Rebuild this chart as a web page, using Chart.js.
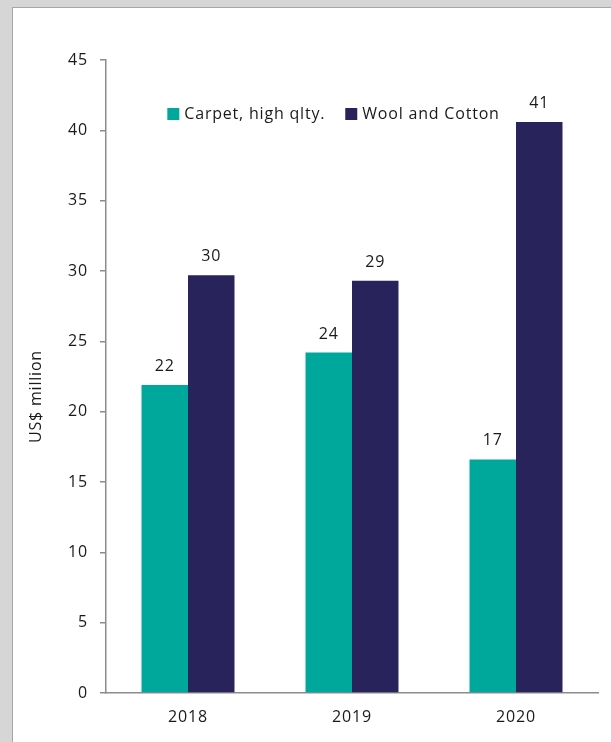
<!DOCTYPE html>
<html>
<head>
<meta charset="utf-8">
<script src="https://cdn.jsdelivr.net/npm/chart.js@4/dist/chart.umd.min.js"></script>
<style>
  html, body { margin: 0; padding: 0; background: #d6d6d6; overflow: hidden; }
  .panel { position: absolute; left: 12px; top: 7px; width: 640px; height: 780px; background: #fff; border: 1px solid #a6a6a6; }
  .wrap { position: absolute; left: 0; top: 0; width: 611px; height: 742px; }
</style>
</head>
<body>
<div class="panel"></div>
<div class="wrap"><canvas id="chart" width="611" height="742"></canvas></div>
<script>
// data
const years = ['2018', '2019', '2020']
const carpetValues = [21.9, 24.2, 16.6]
const woolValues = [29.7, 29.3, 40.6]
const seriesNames = ['Carpet, high qlty.', 'Wool and Cotton']
const yTicks = [0, 5, 10, 15, 20, 25, 30, 35, 40, 45]

const FONT = '"Open Sans", Lato, sans-serif'
const FONT_SIZE = 16
const TEXT = '#1a1a1a'
const AXIS = '#8c8c8c'

// the source chart's text is a little spaced out
const spacing = {
  id: 'spacing',
  beforeDraw(chart) { chart.ctx.letterSpacing = '0.8px' }
}

// value labels above each bar
const barLabels = {
  id: 'barLabels',
  afterDatasetsDraw(chart) {
    const { ctx } = chart
    ctx.save()
    ctx.font = `${FONT_SIZE}px ${FONT}`
    ctx.fillStyle = TEXT
    ctx.textAlign = 'center'
    ctx.textBaseline = 'alphabetic'
    chart.data.datasets.forEach((ds, i) => {
      chart.getDatasetMeta(i).data.forEach((bar, j) => {
        ctx.fillText(String(Math.round(ds.data[j])), bar.x, bar.y - 14)
      })
    })
    ctx.restore()
  }
}

// legend drawn inside the plot area, in one row
const innerLegend = {
  id: 'innerLegend',
  afterDraw(chart) {
    const { ctx } = chart
    const items = Chart.defaults.plugins.legend.labels.generateLabels(chart)
    ctx.save()
    ctx.font = `${FONT_SIZE}px ${FONT}`
    ctx.textBaseline = 'middle'
    ctx.textAlign = 'left'
    const box = 12, gapText = 5, gapItem = 20
    const widths = items.map(it => box + gapText + ctx.measureText(it.text).width)
    const total = widths.reduce((a, b) => a + b, 0) + gapItem * (items.length - 1)
    let x = 333.5 - total / 2
    const cy = 114
    items.forEach((it, i) => {
      ctx.fillStyle = it.fillStyle
      ctx.fillRect(x, cy - box / 2, box, box)
      ctx.fillStyle = TEXT
      ctx.fillText(it.text, x + box + gapText, cy)
      x += widths[i] + gapItem
    })
    ctx.restore()
  }
}

new Chart(document.getElementById('chart'), {
  type: 'bar',
  data: {
    labels: years,
    datasets: [
      { label: seriesNames[0], data: carpetValues, backgroundColor: '#00a89c' },
      { label: seriesNames[1], data: woolValues, backgroundColor: '#29235c' }
    ]
  },
  plugins: [spacing, barLabels, innerLegend],
  options: {
    responsive: false,
    animation: false,
    layout: { padding: { left: 0, top: 60, right: 13, bottom: 0 } },
    datasets: { bar: { categoryPercentage: 0.567, barPercentage: 1, borderWidth: 0 } },
    plugins: {
      tooltip: { enabled: false },
      legend: { display: false }
    },
    scales: {
      x: {
        grid: { drawOnChartArea: false, drawTicks: false },
        border: { color: AXIS, width: 1.5 },
        ticks: { color: TEXT, font: { family: FONT, size: FONT_SIZE }, padding: 15 },
        afterFit(s) { s.height = 49 }
      },
      y: {
        min: 0, max: 45,
        afterBuildTicks(s) { s.ticks = yTicks.map(v => ({ value: v })) },
        grid: { drawOnChartArea: false, drawTicks: true, tickLength: 6, color: AXIS, lineWidth: 1.5 },
        border: { color: AXIS, width: 1.5 },
        ticks: { color: TEXT, font: { family: FONT, size: FONT_SIZE }, padding: 12 },
        title: { display: true, text: 'US$ million', color: TEXT, font: { family: FONT, size: FONT_SIZE }, padding: { top: 27, bottom: 0 } },
        afterFit(s) {
          s.width = 106
          // the title sits a bit below the axis middle in the source
          if (!s._titleShifted) {
            const orig = s.drawTitle
            s.drawTitle = function () {
              this.ctx.save()
              this.ctx.translate(0, 20)
              orig.call(this)
              this.ctx.restore()
            }
            s._titleShifted = true
          }
        }
      }
    }
  }
})
</script>
</body>
</html>
